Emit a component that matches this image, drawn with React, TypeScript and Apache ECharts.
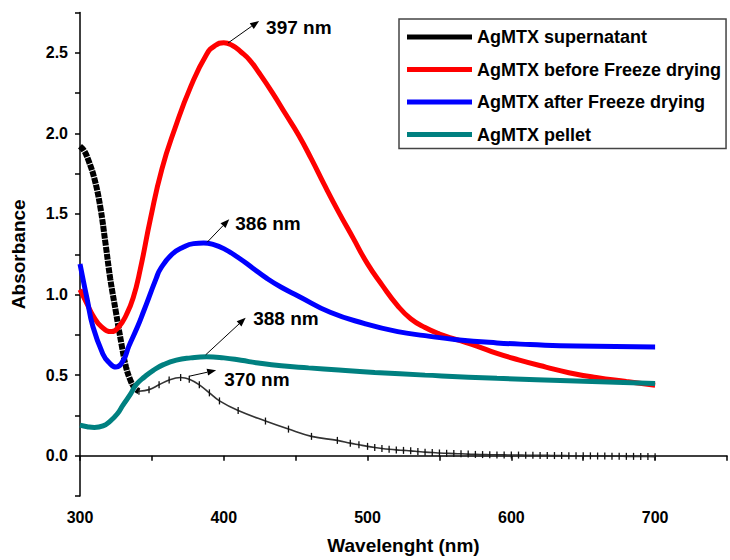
import React, { useEffect, useRef } from "react";
import * as echarts from "echarts";

// ---- Data (wavelength nm, absorbance) ----
const supernatantThick: [number, number][] = [
  [300, 1.92], [303, 1.89], [306, 1.83], [310, 1.72], [314, 1.55], [318, 1.3],
  [321, 1.1], [325, 0.89], [329, 0.685], [332, 0.55], [335, 0.47], [338, 0.42], [341, 0.4],
];
const supernatantThin: [number, number][] = [
  [341, 0.4], [348, 0.41], [355, 0.44], [362, 0.47], [370, 0.485], [376, 0.475],
  [383, 0.44], [390, 0.39], [397, 0.34], [410, 0.28], [429, 0.215], [445, 0.165],
  [461, 0.12], [479, 0.095], [488, 0.078], [494, 0.068], [500, 0.058], [505, 0.051],
  [510, 0.045], [515, 0.04], [520, 0.036], [525, 0.033], [530, 0.03], [535, 0.026],
  [540, 0.022], [545, 0.02], [550, 0.017], [555, 0.015], [560, 0.013], [565, 0.012],
  [570, 0.01], [575, 0.008], [580, 0.007], [585, 0.006], [590, 0.005], [595, 0.005],
  [600, 0.004], [605, 0.004], [610, 0.003], [615, 0.003], [620, 0.002], [625, 0.002],
  [630, 0.001], [635, 0.001], [640, 0.0], [645, 0.0], [650, 0.0], [655, -0.001],
  [660, -0.002], [665, -0.002], [670, -0.003], [675, -0.003], [680, -0.004],
  [685, -0.004], [690, -0.005], [695, -0.005], [700, -0.006],
];
const beforeFreeze: [number, number][] = [
  [300, 1.03], [305, 0.94], [309, 0.87], [315, 0.8], [322, 0.77], [327, 0.8],
  [332, 0.87], [337, 0.98], [342, 1.16], [349, 1.47], [357, 1.78], [366, 2.03],
  [377, 2.29], [388, 2.49], [394, 2.545], [400, 2.562], [406, 2.545], [412, 2.505],
  [418, 2.455], [425, 2.37], [434, 2.25], [443, 2.12], [452, 1.99], [461, 1.84], [470, 1.68],
  [480, 1.51], [490, 1.35], [500, 1.19], [510, 1.06], [521, 0.93], [530, 0.85],
  [540, 0.795], [550, 0.755], [562, 0.72], [576, 0.68], [590, 0.635], [605, 0.595],
  [624, 0.55], [640, 0.515], [659, 0.485], [680, 0.46], [700, 0.437],
];
const afterFreeze: [number, number][] = [
  [300, 1.19], [302, 1.1], [305, 0.97], [309, 0.8], [316, 0.63], [320, 0.58],
  [325, 0.55], [330, 0.59], [334, 0.68], [340, 0.8], [344, 0.89], [353, 1.1],
  [356, 1.16], [364, 1.25], [372, 1.295], [379, 1.316], [386, 1.32], [393, 1.31],
  [400, 1.285], [410, 1.23], [420, 1.165], [430, 1.1], [440, 1.045], [452, 0.99],
  [474, 0.89], [498, 0.82], [521, 0.77], [540, 0.745], [562, 0.72], [590, 0.7],
  [613, 0.69], [645, 0.68], [700, 0.675],
];
const pellet: [number, number][] = [
  [300, 0.19], [305, 0.18], [310, 0.175], [316, 0.185], [321, 0.215], [326, 0.26],
  [330, 0.316], [335, 0.38], [339, 0.44], [345, 0.49], [351, 0.53], [358, 0.565],
  [367, 0.593], [377, 0.607], [388, 0.614], [400, 0.607], [412, 0.592], [424, 0.575],
  [440, 0.558], [459, 0.545], [480, 0.532], [505, 0.517], [540, 0.5], [590, 0.48],
  [645, 0.464], [700, 0.448],
];

const seriesNames = [
  "AgMTX supernatant",
  "AgMTX before Freeze drying",
  "AgMTX after Freeze drying",
  "AgMTX pellet",
];
const xTicks = [300, 400, 500, 600, 700];
const yTicks = [0.0, 0.5, 1.0, 1.5, 2.0, 2.5];

// peak annotations: anchor (data) and label text
const peakLabels = ["397 nm", "386 nm", "388 nm", "370 nm"];
const peakAnchors: [number, number][] = [
  [403, 2.561], [388.5, 1.325], [387.4, 0.626], [375.9, 0.493],
];
// arrow head offsets (px) and text offsets from head (px)
const arrowOffsets: [number, number][] = [[31, -22], [22, -23], [40, -37], [27, -6]];
const textOffsets: [number, number][] = [[7, 7], [6, 4], [7.5, 1], [8, 9]];

const FONT = "'Liberation Sans', Arial, sans-serif";

export default function App() {
  const ref = useRef<HTMLDivElement>(null);
  useEffect(() => {
    if (!ref.current) return;
    const chart = echarts.init(ref.current, null, { renderer: "svg" });
    const option: any = {
      animation: false,
      backgroundColor: "#fff",
      textStyle: { fontFamily: FONT },
      grid: { left: 80, top: 12.5, width: 652.5, height: 486, containLabel: false },
      legend: {
        left: 399,
        top: 19,
        orient: "vertical",
        data: seriesNames,
        icon: "rect",
        itemWidth: 65,
        itemHeight: 5,
        itemGap: 14.5,
        padding: [9, 5, 5, 8],
        borderColor: "#444",
        borderWidth: 1.5,
        textStyle: { fontSize: 18, fontWeight: "bold", color: "#000", fontFamily: FONT },
      },
      xAxis: {
        type: "value",
        min: 300,
        max: 750,
        interval: 50,
        name: "Wavelenght (nm)",
        nameLocation: "middle",
        nameGap: 40,
        nameTextStyle: { fontSize: 19, fontWeight: "bold", color: "#000", fontFamily: FONT },
        axisLine: { show: true, lineStyle: { color: "#000", width: 1.5 } },
        axisTick: { show: true, length: 5, lineStyle: { color: "#000", width: 1.5 } },
        splitLine: { show: false },
        axisLabel: {
          margin: 13,
          fontSize: 16,
          fontWeight: "bold",
          color: "#000",
          fontFamily: FONT,
          formatter: (v: number) => (xTicks.includes(v) ? String(v) : ""),
        },
      },
      yAxis: {
        type: "value",
        min: -0.25,
        max: 2.75,
        interval: 0.25,
        name: "Absorbance",
        nameLocation: "middle",
        nameGap: 52,
        nameTextStyle: { fontSize: 19, fontWeight: "bold", color: "#000", fontFamily: FONT },
        axisLine: { show: true, lineStyle: { color: "#000", width: 1.5 } },
        axisTick: { show: true, length: 5, lineStyle: { color: "#000", width: 1.5 } },
        splitLine: { show: false },
        axisLabel: {
          margin: 12,
          fontSize: 16,
          fontWeight: "bold",
          color: "#000",
          fontFamily: FONT,
          formatter: (v: number) => {
            const m = yTicks.find((t) => Math.abs(t - v) < 1e-6);
            return m === undefined ? "" : m.toFixed(1);
          },
        },
      },
      series: [
        {
          name: seriesNames[0],
          type: "line",
          data: supernatantThick,
          smooth: 0.4,
          showSymbol: false,
          itemStyle: { color: "#000" },
          lineStyle: { color: "#000", width: 6, type: [6, 1], cap: "butt" },
        },
        {
          name: seriesNames[0],
          type: "line",
          data: supernatantThin,
          smooth: 0.4,
          symbol: "rect",
          symbolSize: [1.3, 7],
          itemStyle: { color: "#111" },
          lineStyle: { color: "#333", width: 1.6 },
        },
        {
          name: seriesNames[1],
          type: "line",
          data: beforeFreeze,
          smooth: 0.5,
          showSymbol: false,
          itemStyle: { color: "#ff0000" },
          lineStyle: { color: "#ff0000", width: 5 },
        },
        {
          name: seriesNames[2],
          type: "line",
          data: afterFreeze,
          smooth: 0.5,
          showSymbol: false,
          itemStyle: { color: "#0000ff" },
          lineStyle: { color: "#0000ff", width: 5 },
        },
        {
          name: seriesNames[3],
          type: "line",
          data: pellet,
          smooth: 0.5,
          showSymbol: false,
          itemStyle: { color: "#008080" },
          lineStyle: { color: "#008080", width: 5 },
        },
      ],
    };
    chart.setOption(option);

    const elements: any[] = [];
    peakAnchors.forEach((a, i) => {
      const p = chart.convertToPixel({ gridIndex: 0 }, a) as number[];
      const px = p[0];
      const py = p[1];
      const hx = px + arrowOffsets[i][0];
      const hy = py + arrowOffsets[i][1];
      const ang = Math.atan2(hy - py, hx - px);
      const L = 9;
      const W = 3.5;
      const bx = hx - L * Math.cos(ang);
      const by = hy - L * Math.sin(ang);
      elements.push({
        type: "line",
        shape: { x1: px, y1: py, x2: bx, y2: by },
        style: { stroke: "#000", lineWidth: 1 },
        z: 10,
      });
      elements.push({
        type: "polygon",
        shape: {
          points: [
            [hx, hy],
            [bx + W * Math.sin(ang), by - W * Math.cos(ang)],
            [bx - W * Math.sin(ang), by + W * Math.cos(ang)],
          ],
        },
        style: { fill: "#000" },
        z: 10,
      });
      elements.push({
        type: "text",
        x: hx + textOffsets[i][0],
        y: hy + textOffsets[i][1],
        style: {
          text: peakLabels[i],
          fontSize: 19,
          fontWeight: "bold",
          fontFamily: FONT,
          fill: "#000",
          align: "left",
          verticalAlign: "middle",
        },
        z: 10,
      });
    });
    chart.setOption({ graphic: elements });

    return () => chart.dispose();
  }, []);

  return (
    <div
      ref={ref}
      style={{ position: "absolute", left: 0, top: 0, width: 730, height: 560 }}
    />
  );
}
